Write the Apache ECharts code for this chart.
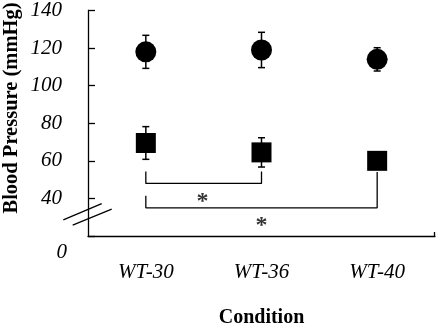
<!DOCTYPE html>
<html>
<head>
<meta charset="utf-8">
<script src="https://cdn.jsdelivr.net/npm/echarts@6/dist/echarts.min.js"></script>
<style>
  html, body { margin: 0; padding: 0; background: #fff; }
  #chart { width: 436px; height: 325px; }
</style>
</head>
<body>
<div id="chart"></div>
<script>
// Blood pressure by condition (mean ± SD)
var categories = ['WT-30', 'WT-36', 'WT-40'];
var systolicMean = [118, 119, 114];
var systolicSD = [8.8, 9.4, 6.2];
var diastolicMean = [69.5, 64.5, 60];
var diastolicSD = [8.7, 7.8, 0];
var yTicks = [40, 60, 80, 100, 120, 140];

// significance brackets: [x (category position), value]
var bracketShort = [[0, 54.3], [0, 48], [1, 48], [1, 54.3]];
var bracketLong = [[0, 41.4], [0, 35], [2, 35], [2, 54]];
var stars = [[0.49, 38.2], [1, 25.6]];

var FONT = 'Liberation Serif';

function errRows(mean, sd) {
  return mean.map(function (m, i) { return [i, m - sd[i], m + sd[i]]; });
}

function renderErr(params, api) {
  var x = api.value(0);
  var top = api.coord([x, api.value(2)]);
  var bot = api.coord([x, api.value(1)]);
  var w = 3.5;
  var st = { stroke: '#000', lineWidth: 1.5 };
  return {
    type: 'group',
    children: [
      { type: 'line', shape: { x1: top[0], y1: top[1], x2: bot[0], y2: bot[1] }, style: st },
      { type: 'line', shape: { x1: top[0] - w, y1: top[1], x2: top[0] + w, y2: top[1] }, style: st },
      { type: 'line', shape: { x1: bot[0] - w, y1: bot[1], x2: bot[0] + w, y2: bot[1] }, style: st }
    ]
  };
}

var chart = echarts.init(document.getElementById('chart'), null, { renderer: 'canvas' });

var option = {
  animation: false,
  backgroundColor: '#fff',
  grid: { left: 88, right: 1, top: 6, bottom: 89, containLabel: false },
  xAxis: [{
    type: 'category',
    data: categories,
    boundaryGap: true,
    axisLine: { onZero: false, lineStyle: { color: '#000', width: 1.3 } },
    axisTick: { alignWithLabel: true, inside: true, length: 4, lineStyle: { color: '#000', width: 1.3 } },
    axisLabel: { margin: 26, color: '#000', fontFamily: FONT, fontStyle: 'italic', fontSize: 21 },
    splitLine: { show: false }
  }, {
    type: 'value',
    min: -0.5,
    max: 2.5,
    show: false
  }],
  yAxis: {
    type: 'value',
    min: 20,
    max: 140,
    interval: 20,
    axisLine: { show: true, onZero: false, lineStyle: { color: '#000', width: 1.3 } },
    axisTick: { show: true, inside: true, length: 7, lineStyle: { color: '#000', width: 1.3 } },
    axisLabel: {
      margin: 26, color: '#000', fontFamily: FONT, fontStyle: 'italic', fontSize: 21,
      formatter: function (v) { return yTicks.indexOf(v) >= 0 ? String(v) : ''; }
    },
    splitLine: { show: false }
  },
  series: [
    {
      name: 'Systolic SD', type: 'custom', renderItem: renderErr,
      data: errRows(systolicMean, systolicSD), z: 3
    },
    {
      name: 'Diastolic SD', type: 'custom', renderItem: renderErr,
      data: errRows(diastolicMean, diastolicSD), z: 3
    },
    {
      name: 'Systolic', type: 'scatter', data: systolicMean,
      symbol: 'circle', symbolSize: 21, itemStyle: { color: '#000', opacity: 1 }, z: 4
    },
    {
      name: 'Diastolic', type: 'scatter', data: diastolicMean,
      symbol: 'rect', symbolSize: 20, itemStyle: { color: '#000', opacity: 1 }, z: 4
    },
    {
      type: 'line', xAxisIndex: 1, data: bracketShort, symbol: 'none',
      lineStyle: { color: '#000', width: 1.3 }, z: 2
    },
    {
      type: 'line', xAxisIndex: 1, data: bracketLong, symbol: 'none',
      lineStyle: { color: '#000', width: 1.3 }, z: 2
    },
    {
      type: 'scatter', xAxisIndex: 1, data: stars, symbolSize: 0,
      label: {
        show: true, position: 'inside', formatter: '*', color: '#000',
        fontFamily: FONT, fontWeight: 'bold', fontSize: 24
      }, z: 5
    }
  ]
};
chart.setOption(option);

// axis break marks, the "0" origin label and axis titles
var origin = chart.convertToPixel({ xAxisIndex: 1, yAxisIndex: 0 }, [-0.5, 20]);
var endPt = chart.convertToPixel({ xAxisIndex: 1, yAxisIndex: 0 }, [2.5, 20]);
var breakY = chart.convertToPixel({ yAxisIndex: 0 }, 31.5);
var ax = origin[0];
var brk = { stroke: '#000', lineWidth: 1.3 };
chart.setOption({
  graphic: [
    { type: 'line', shape: { x1: ax - 24.7, y1: breakY + 5.5, x2: ax + 13.7, y2: breakY - 10.8 }, style: brk },
    { type: 'line', shape: { x1: ax - 15.3, y1: breakY + 10.8, x2: ax + 23.7, y2: breakY - 5.2 }, style: brk },
    { type: 'line', shape: { x1: endPt[0] - 0.5, y1: endPt[1], x2: endPt[0] - 0.5, y2: endPt[1] - 4 }, style: brk },
    {
      type: 'text', x: ax - 21, y: origin[1] + 16,
      style: { text: '0', fill: '#000', font: 'italic 21px "' + FONT + '"', align: 'right', verticalAlign: 'middle' }
    },
    {
      type: 'text', x: (ax + endPt[0]) / 2, y: 318,
      style: { text: 'Condition', fill: '#000', font: 'bold 20px "' + FONT + '"', align: 'center', verticalAlign: 'middle' }
    },
    {
      type: 'text', x: 12, y: 108, rotation: Math.PI / 2,
      style: { text: 'Blood Pressure (mmHg)', fill: '#000', font: 'bold 20.5px "' + FONT + '"', align: 'center', verticalAlign: 'middle' }
    }
  ]
});
</script>
</body>
</html>
